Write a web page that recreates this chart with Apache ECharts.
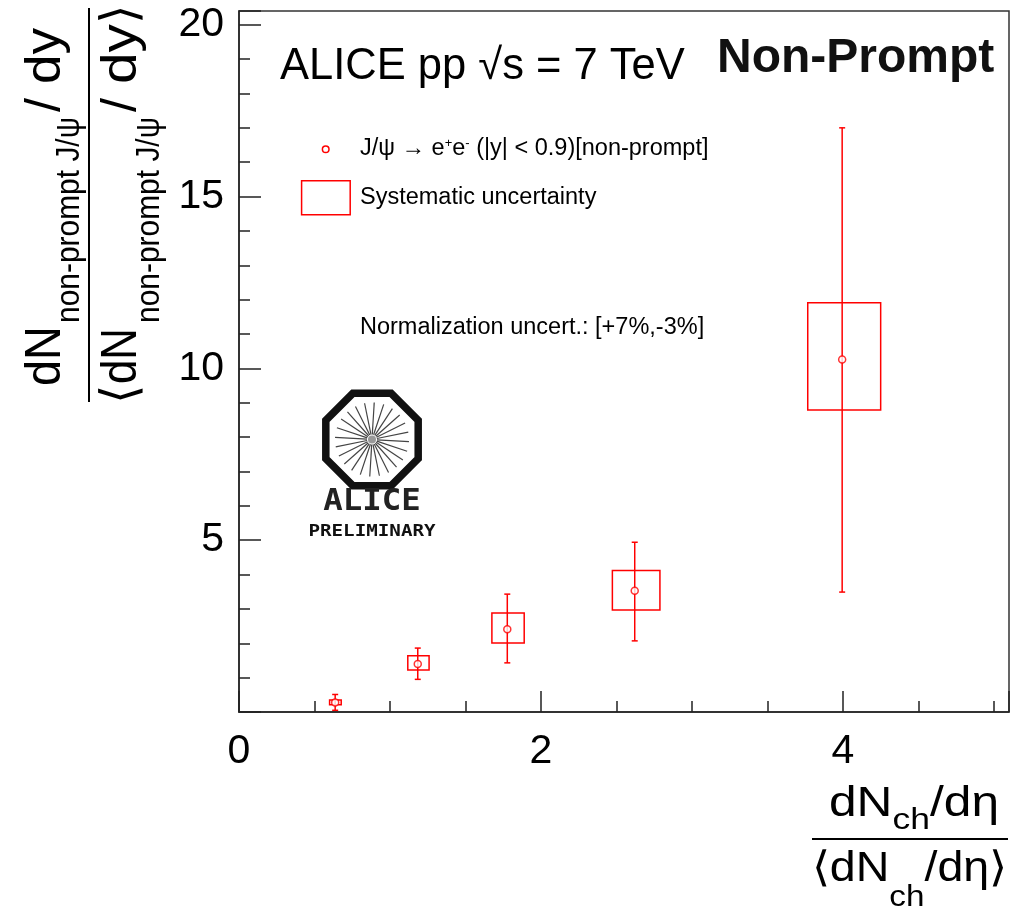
<!DOCTYPE html>
<html><head><meta charset="utf-8">
<script src="https://cdn.jsdelivr.net/npm/echarts@6/dist/echarts.min.js"></script>
<style>html,body{margin:0;padding:0;background:#fff}#c{width:1022px;height:914px}</style>
</head><body><div id="c"></div>
<script>
// ---- data ----
const xVals    = [0.637, 1.184, 1.777, 2.621, 3.995];
const yVals    = [0.28, 1.40, 2.41, 3.53, 10.26];
const statLow  = [0.05, 0.95, 1.43, 2.07, 3.49];
const statHigh = [0.51, 1.86, 3.43, 4.94, 17.0];
const sysXLow  = [0.600, 1.118, 1.675, 2.473, 3.767];
const sysXHigh = [0.677, 1.259, 1.889, 2.788, 4.250];
const sysLow   = [0.21, 1.22, 2.01, 2.97, 8.79];
const sysHigh  = [0.35, 1.64, 2.88, 4.12, 11.91];
const xTickValues = [0, 2, 4];
const xTickLabels = ['0', '2', '4'];
const yTickValues = [5, 10, 15, 20];
const yTickLabels = ['5', '10', '15', '20'];

const RED = '#ff0000';
const FONT = '"Liberation Sans", Arial, sans-serif';
const chart = echarts.init(document.getElementById('c'), null, {renderer: 'canvas'});

const mctx = document.createElement('canvas').getContext('2d');
function measure(t, f) { mctx.font = f + 'px ' + FONT; return mctx.measureText(t).width; }

// one text piece placed by its start point on the baseline; optional target length along reading direction
function piece(text, f, x, y, length, rotate) {
  const w = measure(text, f);
  const s = length ? length / w : 1;
  const el = {type: 'text', x: x, y: y, scaleX: s, z: 100,
    style: {text: text, font: f + 'px ' + FONT, fill: '#000', textAlign: 'left', textVerticalAlign: 'middle', x: 0, y: -0.31 * f}};
  if (rotate) el.rotation = Math.PI / 2;
  return el;
}
// horizontal run of pieces [text, size, baselineOffset], uniformly scaled to a total length
function run(pieces, x0, base, total) {
  const ws = pieces.map(p => measure(p[0], p[1]));
  const sum = ws.reduce((a, b) => a + b, 0);
  const s = total / sum;
  let cum = 0;
  return pieces.map((p, i) => { const el = piece(p[0], p[1], x0 + cum * s, base + p[2], ws[i] * s); cum += ws[i]; return el; });
}

const graphics = [];
// y-axis title (rotated fraction) : x = baseline, y = start of reading
graphics.push(piece('dN', 50, 62, 386, 60, true));
graphics.push(piece('non-prompt J/\u03C8', 34, 80, 323, 206, true));
graphics.push(piece('/', 50, 62, 112, 0, true));
graphics.push(piece('dy', 50, 62, 84, 56, true));
graphics.push(piece('\u27E8', 50, 138, 404, 0, true));
graphics.push(piece('dN', 50, 138, 384, 56, true));
graphics.push(piece('non-prompt J/\u03C8', 34, 160, 323, 206, true));
graphics.push(piece('/', 50, 138, 112, 0, true));
graphics.push(piece('dy', 50, 138, 84, 60, true));
graphics.push(piece('\u27E9', 50, 138, 24, 0, true));
graphics.push({type: 'line', z: 100, shape: {x1: 89, y1: 8, x2: 89, y2: 402}, style: {stroke: '#000', lineWidth: 2}});
// x-axis title
graphics.push(...run([['dN', 42, 0], ['ch', 30, 13], ['/d\u03B7', 42, 0]], 829, 817, 170));
graphics.push(...run([['\u27E8dN', 42, 0], ['ch', 30, 25], ['/d\u03B7\u27E9', 42, 0]], 812, 882, 195));
graphics.push({type: 'line', z: 100, shape: {x1: 812, y1: 839, x2: 1008, y2: 839}, style: {stroke: '#000', lineWidth: 2}});

// header texts
graphics.push({type: 'text', x: 280, y: 67, z: 100, style: {text: 'ALICE pp \u221As = 7 TeV', font: '43.5px ' + FONT, fill: '#000', textVerticalAlign: 'middle'}});
graphics.push({type: 'text', x: 717, y: 59, z: 100, style: {text: 'Non-Prompt', font: 'bold 48px ' + FONT, fill: '#111', textVerticalAlign: 'middle'}});
// legend
graphics.push({type: 'circle', z: 100, shape: {cx: 325.7, cy: 149.3, r: 3.3}, style: {fill: '#fff', stroke: RED, lineWidth: 1.5}});
graphics.push({type: 'text', x: 360, y: 149, z: 100, style: {
  text: '{n|J/\u03C8 \u2192 e}{s|+}{n|e}{s|-}{n| (|y| < 0.9)[non-prompt]}',
  textVerticalAlign: 'middle', fill: '#000',
  rich: {n: {fontSize: 23.5, fontFamily: FONT, fill: '#000', verticalAlign: 'bottom'}, s: {fontSize: 13, fontFamily: FONT, fill: '#000', verticalAlign: 'top'}}
}});
graphics.push({type: 'rect', z: 100, shape: {x: 301.6, y: 180.7, width: 48.6, height: 34}, style: {fill: 'none', stroke: RED, lineWidth: 1.5}});
graphics.push({type: 'text', x: 360, y: 198, z: 100, style: {text: 'Systematic uncertainty', font: '23.5px ' + FONT, fill: '#000', textVerticalAlign: 'middle'}});
graphics.push({type: 'text', x: 360, y: 328, z: 100, style: {text: 'Normalization uncert.: [+7%,-3%]', font: '23.5px ' + FONT, fill: '#000', textVerticalAlign: 'middle'}});

// ALICE logo
(function () {
  const cx = 372, cy = 439.5, R = 50;
  const pts = [];
  for (let k = 0; k < 8; k++) { const a = Math.PI / 8 + k * Math.PI / 4; pts.push([cx + R * Math.cos(a), cy + R * Math.sin(a)]); }
  graphics.push({type: 'polygon', z: 100, shape: {points: pts}, style: {fill: 'none', stroke: '#111', lineWidth: 7.5, lineJoin: 'miter'}});
  for (let k = 0; k < 24; k++) {
    const a = k * Math.PI / 12 + 0.06;
    graphics.push({type: 'line', z: 100, shape: {x1: cx + 5 * Math.cos(a), y1: cy + 5 * Math.sin(a), x2: cx + 37 * Math.cos(a), y2: cy + 37 * Math.sin(a)}, style: {stroke: '#444', lineWidth: 1.2}});
  }
  graphics.push({type: 'circle', z: 100, shape: {cx: cx, cy: cy, r: 4}, style: {fill: '#999'}});
  graphics.push({type: 'text', x: cx, y: 502, z: 100, scaleX: 1.08, style: {text: 'ALICE', font: 'bold 30px "DejaVu Sans Mono", monospace', fill: '#222', textAlign: 'center', textVerticalAlign: 'middle'}});
  graphics.push({type: 'text', x: cx, y: 532, z: 100, scaleX: 1.2, style: {text: 'PRELIMINARY', font: 'bold 16px "DejaVu Sans Mono", monospace', fill: '#111', textAlign: 'center', textVerticalAlign: 'middle'}});
})();

const grid = {left: 239, right: 13, top: 11, bottom: 202, show: true, borderColor: '#333', borderWidth: 1.5, backgroundColor: 'transparent'};
const axisLine = {show: true, lineStyle: {color: '#222', width: 1.5}};
const tickStyle = {color: '#222', width: 1.5};

const option = {
  animation: false,
  backgroundColor: '#fff',
  grid: grid,
  xAxis: [
    {type: 'value', min: 0, max: 5.1, interval: 2, position: 'bottom',
     axisLine: axisLine, splitLine: {show: false},
     axisTick: {show: true, inside: true, length: 21, lineStyle: tickStyle},
     axisLabel: {show: true, margin: 19, fontSize: 41, fontFamily: FONT, color: '#000',
       formatter: v => { const i = xTickValues.indexOf(Math.round(v * 1000) / 1000); return i >= 0 ? xTickLabels[i] : ''; }}},
    {type: 'value', min: 0, max: 5.1, interval: 0.5, position: 'bottom',
     axisLine: {show: false}, splitLine: {show: false},
     axisTick: {show: true, inside: true, length: 11, lineStyle: tickStyle},
     axisLabel: {show: false}}
  ],
  yAxis: [
    {type: 'value', min: 0, max: 20.4, interval: 5, position: 'left',
     axisLine: axisLine, splitLine: {show: false},
     axisTick: {show: true, inside: true, length: 22, lineStyle: tickStyle},
     axisLabel: {show: true, margin: 15, fontSize: 41, fontFamily: FONT, color: '#000',
       formatter: v => { const i = yTickValues.indexOf(Math.round(v * 1000) / 1000); return i >= 0 ? yTickLabels[i] : ''; }}},
    {type: 'value', min: 0, max: 20.4, interval: 1, position: 'left',
     axisLine: {show: false}, splitLine: {show: false},
     axisTick: {show: true, inside: true, length: 11, lineStyle: tickStyle},
     axisLabel: {show: false}}
  ],
  series: [
    {type: 'custom', name: 'sys', xAxisIndex: 0, yAxisIndex: 0, z: 3,
     data: xVals.map((x, i) => [sysXLow[i], sysXHigh[i], sysLow[i], sysHigh[i]]),
     renderItem: (params, api) => {
       const p1 = api.coord([api.value(0), api.value(3)]);
       const p2 = api.coord([api.value(1), api.value(2)]);
       return {type: 'rect', shape: {x: p1[0], y: p1[1], width: p2[0] - p1[0], height: p2[1] - p1[1]},
               style: {fill: 'none', stroke: RED, lineWidth: 1.5}};
     }},
    {type: 'custom', name: 'stat', xAxisIndex: 0, yAxisIndex: 0, z: 4,
     data: xVals.map((x, i) => [x, statLow[i], statHigh[i]]),
     renderItem: (params, api) => {
       const top = api.coord([api.value(0), api.value(2)]);
       const bot = api.coord([api.value(0), api.value(1)]);
       const c = 3, st = {stroke: RED, lineWidth: 1.5};
       return {type: 'group', children: [
         {type: 'line', shape: {x1: top[0], y1: top[1], x2: bot[0], y2: bot[1]}, style: st},
         {type: 'line', shape: {x1: top[0] - c, y1: top[1], x2: top[0] + c, y2: top[1]}, style: st},
         {type: 'line', shape: {x1: bot[0] - c, y1: bot[1], x2: bot[0] + c, y2: bot[1]}, style: st}
       ]};
     }},
    {type: 'scatter', name: 'J/psi', xAxisIndex: 0, yAxisIndex: 0, z: 5,
     symbol: 'circle', symbolSize: 7,
     itemStyle: {color: '#fff', borderColor: RED, borderWidth: 1.5},
     data: xVals.map((x, i) => [x, yVals[i]])}
  ],
  graphic: graphics
};
chart.setOption(option);
</script>
</body></html>
